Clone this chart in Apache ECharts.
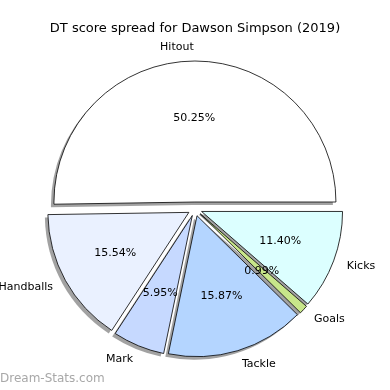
<!DOCTYPE html>
<html><head><meta charset="utf-8">
<script src="https://cdn.jsdelivr.net/npm/echarts@6/dist/echarts.min.js"></script>
<style>html,body{margin:0;padding:0;background:#fff}#c{width:390px;height:390px}</style>
</head><body><div id="c"></div>
<script>
const categories = ['Hitout', 'Handballs', 'Mark', 'Tackle', 'Goals', 'Kicks'];
const values = [50.25, 15.54, 5.95, 15.87, 0.99, 11.40];
const colors = ['#ffffff', '#eaf1ff', '#c6d9ff', '#b4d5ff', '#c8e68a', '#dcffff'];

const R = 141;
const CX = 195, CY = 209;
const FONT = 'DejaVu Sans';
const chart = echarts.init(document.getElementById('c'), null, {renderer: 'canvas'});

const common = {
  type: 'pie',
  startAngle: 0,
  clockwise: false,
  selectedMode: 'multiple',
  selectedOffset: 7,
  avoidLabelOverlap: false,
  silent: true,
  emphasis: {disabled: true}
};

chart.setOption({
  animation: false,
  title: {
    text: 'DT score spread for Dawson Simpson (2019)',
    left: 'center', top: 17,
    textStyle: {fontFamily: FONT, fontSize: 13, fontWeight: 'normal', color: '#000'}
  },
  graphic: [{
    type: 'text', left: 0, top: 373,
    style: {text: 'Dream-Stats.com', fontFamily: FONT, fontSize: 12, fill: '#a8a8a8'}
  }],
  series: [
    Object.assign({}, common, {
      // drop shadow
      center: [CX - 3, CY + 3],
      radius: [0, R],
      z: 1,
      itemStyle: {color: 'rgba(70,70,70,0.5)', borderWidth: 0},
      label: {show: false},
      labelLine: {show: false},
      data: categories.map((n, i) => ({name: n, value: values[i], selected: true}))
    }),
    Object.assign({}, common, {
      center: [CX, CY],
      radius: [0, R],
      z: 2,
      itemStyle: {borderColor: '#000', borderWidth: 0.8},
      label: {
        show: true, position: 'outside',
        formatter: '{b}', distanceToLabelLine: 0,
        fontFamily: FONT, fontSize: 11, color: '#000'
      },
      labelLine: {show: false, length: R * 0.1, length2: 0},
      data: categories.map((n, i) => ({
        name: n, value: values[i], selected: true,
        itemStyle: {color: colors[i]}
      }))
    }),
    Object.assign({}, common, {
      center: [CX, CY],
      radius: [0, R * 1.15],
      z: 5,
      itemStyle: {color: 'transparent', borderWidth: 0},
      label: {
        show: true, position: 'inner',
        formatter: p => p.value.toFixed(2) + '%',
        fontFamily: FONT, fontSize: 11, color: '#000'
      },
      labelLine: {show: false},
      data: categories.map((n, i) => ({name: n, value: values[i], selected: true}))
    })
  ]
});
</script></body></html>
